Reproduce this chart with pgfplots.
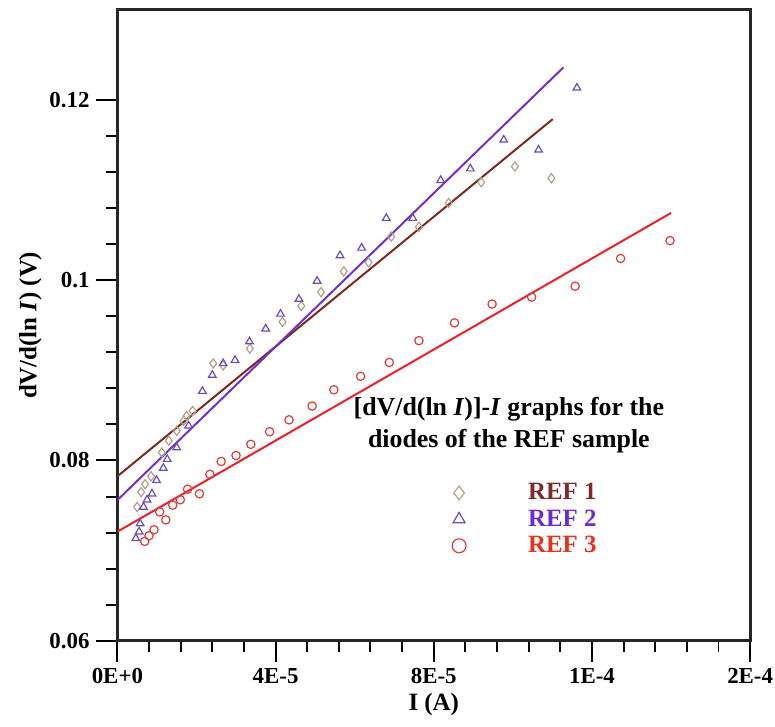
\documentclass[border=0pt]{standalone}
\usepackage{fontspec}
\setmainfont{Liberation Serif}
\usepackage{pgfplots}
\pgfplotsset{compat=1.18}
\definecolor{brownline}{RGB}{125,40,32}
\definecolor{purpleline}{RGB}{112,48,205}
\definecolor{redline}{RGB}{235,32,42}
\definecolor{diamc}{RGB}{178,160,138}
\definecolor{tric}{RGB}{105,75,195}
\definecolor{circc}{RGB}{222,60,60}
\definecolor{txtone}{RGB}{130,40,40}
\definecolor{txttwo}{RGB}{110,40,220}
\definecolor{txtthree}{RGB}{232,50,30}
\begin{document}
\begin{tikzpicture}
\begin{axis}[
  name=ax, scale only axis, width=318pt, height=317pt,
  xmin=0, xmax=1.6e-4, ymin=0.06, ymax=0.13,
  xtick={0,4e-5,8e-5,1.2e-4,1.6e-4}, xticklabels={0E+0,4E-5,8E-5,1E-4,2E-4},
  ytick={0.06,0.08,0.1,0.12}, yticklabels={0.06,0.08,0.1,0.12},
  minor x tick num=4, minor y tick num=4,
  scaled x ticks=false, scaled y ticks=false,
  tick align=outside, tick pos=left,
  major tick length=10.5pt, minor tick length=5.5pt,
  every tick/.append style={line width=1pt, black},
  axis line style={line width=1.5pt, black!85},
  ticklabel style={font=\fontsize{11.5}{14}\selectfont\bfseries},
  xlabel={I (A)}, ylabel={dV/d(ln \textit{I}) (V)},
  label style={font=\fontsize{12.5}{14}\selectfont\bfseries},
  xlabel style={yshift=2pt},
  ylabel style={yshift=-3pt},
  legend style={draw=none, fill=none, at={(axis cs:8.05e-5,0.0784)}, anchor=north west,
    font=\fontsize{12.5}{14}\selectfont\bfseries, row sep=-0.5pt},
  legend cell align=left,
  legend image code/.code={\path[draw=none,fill=none] (0cm,0cm) -- (1.45cm,0cm); \draw[#1, mark size=3.5pt] plot coordinates {(0.3cm,0cm)};},
]
\addplot[brownline, line width=1pt, forget plot] coordinates {(0,0.07824) (1.1008e-4,0.11788)};
\addplot[purpleline, line width=1pt, forget plot] coordinates {(0,0.0756) (1.128e-4,0.12363)};
\addplot[redline, line width=1pt, forget plot] coordinates {(0,0.0721) (1.40e-4,0.10747)};

\addplot[only marks, mark=diamond, mark size=2.3pt, mark options={draw=diamc, line width=0.6pt}] coordinates {
(5.0e-6,0.07484) (6.0e-6,0.07648) (7.0e-6,0.07736) (8.5e-6,0.07824) (1.125e-5,0.08088)
(1.3e-5,0.08220) (1.5e-5,0.08330) (1.675e-5,0.08440) (1.75e-5,0.08494) (1.9e-5,0.08549)
(2.425e-5,0.09077) (2.675e-5,0.09055) (3.35e-5,0.09242) (4.175e-5,0.09538) (4.65e-5,0.09714)
(5.15e-5,0.09868) (5.725e-5,0.10099) (6.35e-5,0.10198) (6.925e-5,0.10484) (7.625e-5,0.10593)
(8.375e-5,0.10857) (9.2e-5,0.11088) (1.005e-4,0.11262) (1.0975e-4,0.11132)};
\addlegendentry{\textcolor{txtone}{REF 1}}

\addplot[only marks, mark=triangle, mark size=2.2pt, mark options={draw=tric, line width=0.6pt}] coordinates {
(4.67e-6,0.07135) (5.5e-6,0.07209) (5.75e-6,0.07300) (6.6e-6,0.07484) (7.5e-6,0.07564)
(8.75e-6,0.07630) (9.9e-6,0.07780) (1.16e-5,0.07915) (1.26e-5,0.08014) (1.5e-5,0.08143)
(1.8e-5,0.08385) (2.15e-5,0.08769) (2.4e-5,0.08948) (2.675e-5,0.09077) (2.975e-5,0.09113)
(3.34e-5,0.09319) (3.75e-5,0.09462) (4.125e-5,0.09626) (4.59e-5,0.09791) (5.05e-5,0.09992)
(5.63e-5,0.10275) (6.175e-5,0.10359) (6.8e-5,0.10689) (7.47e-5,0.10689) (8.175e-5,0.11110)
(8.925e-5,0.11238) (9.77e-5,0.11558) (1.065e-4,0.11447) (1.162e-4,0.12135)};
\addlegendentry{\textcolor{txttwo}{REF 2}}

\addplot[only marks, mark=o, mark size=2.1pt, mark options={draw=circc, line width=0.6pt}] coordinates {
(6.9e-6,0.07102) (8.0e-6,0.07165) (9.25e-6,0.07231) (1.07e-5,0.07429) (1.225e-5,0.07341)
(1.4e-5,0.07505) (1.59e-5,0.07564) (1.775e-5,0.07681) (2.075e-5,0.07630) (2.34e-5,0.07846)
(2.625e-5,0.07989) (3.0e-5,0.08055) (3.375e-5,0.08179) (3.85e-5,0.08319) (4.34e-5,0.08451)
(4.925e-5,0.08604) (5.475e-5,0.08784) (6.15e-5,0.08934) (6.875e-5,0.09088) (7.625e-5,0.09330)
(8.525e-5,0.09527) (9.475e-5,0.09736) (1.0475e-4,0.09813) (1.1575e-4,0.09934) (1.2725e-4,0.10242)
(1.3975e-4,0.10440)};
\addlegendentry{\textcolor{txtthree}{REF 3}}

\node[font=\fontsize{13}{16}\selectfont\bfseries, align=center] at (axis cs:9.9e-5,0.0839)
  {[dV/d(ln \textit{I})]-\textit{I} graphs for the\\diodes of the REF sample};
\end{axis}
\pgfresetboundingbox
\path ([shift={(-59pt,-43pt)}]ax.south west) rectangle ([shift={(12.5pt,5pt)}]ax.north east);
\end{tikzpicture}
\end{document}
